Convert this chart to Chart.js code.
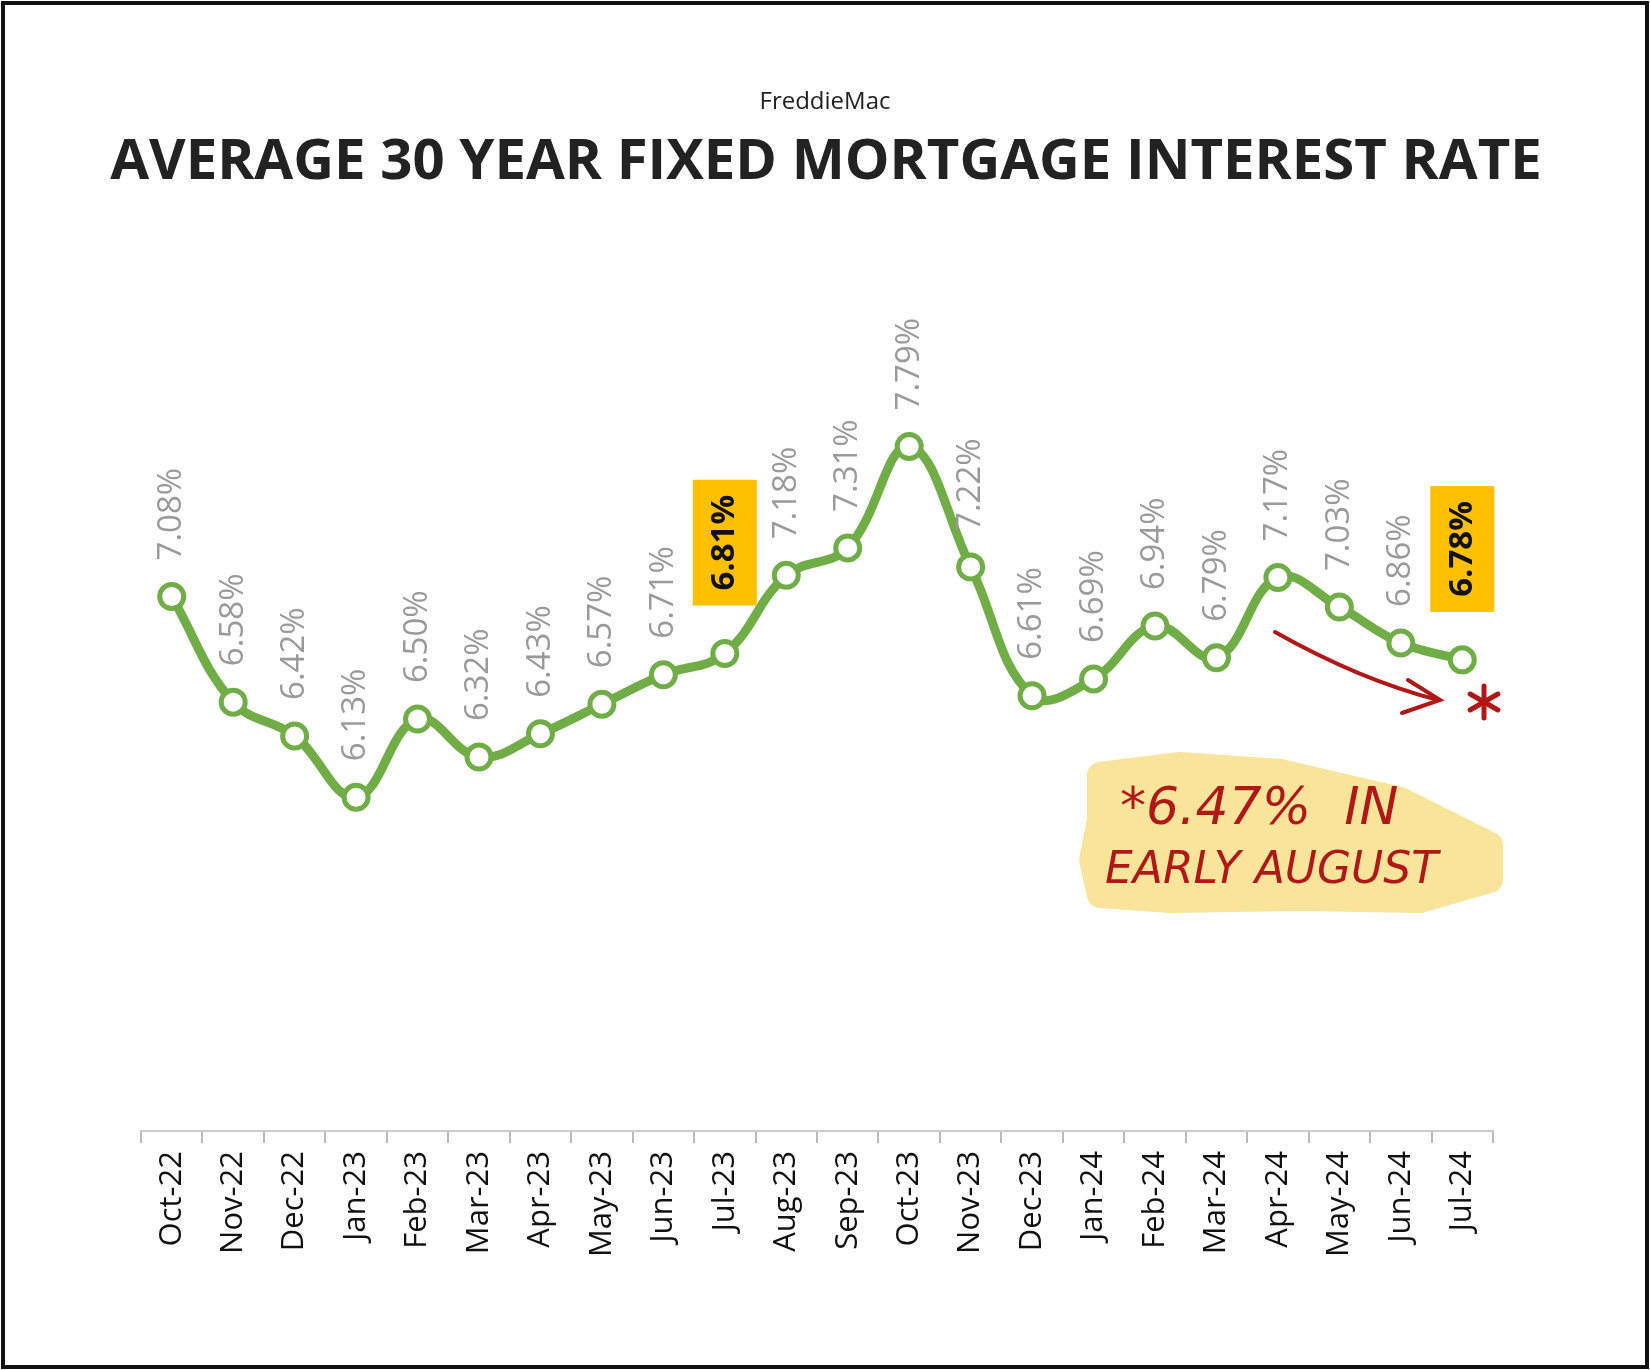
<!DOCTYPE html>
<html><head><meta charset="utf-8">
<script src="https://cdn.jsdelivr.net/npm/chart.js@4"></script>
<style>html,body{margin:0;padding:0;background:#fff}#wrap{width:1650px;height:1370px;position:relative}</style>
</head><body><div id="wrap"><canvas id="c" width="1650" height="1370"></canvas></div>
<script>
const categories=["Oct-22","Nov-22","Dec-22","Jan-23","Feb-23","Mar-23","Apr-23","May-23","Jun-23","Jul-23","Aug-23","Sep-23","Oct-23","Nov-23","Dec-23","Jan-24","Feb-24","Mar-24","Apr-24","May-24","Jun-24","Jul-24"];
const rates=[7.08,6.58,6.42,6.13,6.50,6.32,6.43,6.57,6.71,6.81,7.18,7.31,7.79,7.22,6.61,6.69,6.94,6.79,7.17,7.03,6.86,6.78];
const highlighted=["Jul-23","Jul-24"];
const titleText="AVERAGE 30 YEAR FIXED MORTGAGE INTEREST RATE";
const subtitleText="FreddieMac";
const noteLines=["*6.47%  IN","EARLY AUGUST"];

const deco={id:'deco',
 beforeDraw(ch){const c=ch.ctx;c.save();c.fillStyle='#fff';c.fillRect(0,0,1650,1370);
  c.strokeStyle='#111';c.lineWidth=4;c.strokeRect(3,3,1644,1364);
  c.fillStyle='#222';c.textAlign='center';c.textBaseline='middle';
  c.font='24px "Open Sans"';c.fillText(subtitleText,825,102);
  let fs=60;c.font='bold '+fs+'px "Open Sans"';const w=c.measureText(titleText).width;fs=fs*1432/w;
  c.font='bold '+fs+'px "Open Sans"';c.fillText(titleText,826,163);
  c.fillStyle='#F8E49A';c.beginPath();
  const pts=[[1100,775],[1180,765],[1280,772],[1400,800],[1490,845],[1490,880],[1420,900],[1300,898],[1170,900],[1100,895],[1092,860],[1100,820]];
  c.moveTo(pts[0][0],pts[0][1]);for(const p of pts)c.lineTo(p[0],p[1]);c.closePath();c.fill();
  c.lineJoin='round';c.strokeStyle='#F8E49A';c.lineWidth=26;c.stroke();
  c.restore();},
 afterDatasetsDraw(ch){const c=ch.ctx;const m=ch.getDatasetMeta(0);c.save();
  m.data.forEach((pt,i)=>{const hi=highlighted.includes(categories[i]);const t=rates[i].toFixed(2)+'%';
   c.save();c.translate(pt.x,pt.y-24);c.rotate(-Math.PI/2);c.textBaseline='middle';c.textAlign='left';
   c.font=(hi?'bold ':'')+'33px "Open Sans"';const tw=c.measureText(t).width;
   if(hi){c.fillStyle='#FFC000';c.fillRect(24,-32,tw+30,64);c.fillStyle='#111';c.fillText(t,39,0);}
   else{c.fillStyle='#9a9a9a';c.fillText(t,12,0);}
   c.restore();});
  c.strokeStyle='#B01818';c.lineWidth=4;c.lineCap='round';c.beginPath();
  c.moveTo(1275,632);c.quadraticCurveTo(1360,680,1438,700);c.stroke();
  c.beginPath();c.moveTo(1408,680);c.lineTo(1440,700);c.lineTo(1402,713);c.stroke();
  c.save();c.translate(1484,702);c.lineWidth=5;for(let k=0;k<3;k++){c.beginPath();c.moveTo(0,-16);c.lineTo(0,16);c.stroke();c.rotate(Math.PI/3);}c.restore();
  c.fillStyle='#B01818';c.textAlign='left';c.textBaseline='middle';
  c.font='italic 52px "DejaVu Sans"';c.fillText(noteLines[0],1120,810);
  c.font='italic 44px "DejaVu Sans"';c.fillText(noteLines[1],1105,872);
  c.restore();}
};
new Chart(document.getElementById('c'),{type:'line',
 data:{labels:categories,datasets:[{data:rates,borderColor:'#70AD47',borderWidth:9,tension:0.4,
  pointRadius:12,pointHoverRadius:12,pointBackgroundColor:'#fff',pointBorderColor:'#70AD47',pointBorderWidth:5,clip:false}]},
 options:{responsive:false,animation:false,devicePixelRatio:1,
  layout:{padding:{left:141,right:157,top:231,bottom:99}},
  plugins:{legend:{display:false},tooltip:{enabled:false}},
  scales:{y:{display:false,min:4.55,max:8.81},
   x:{offset:true,afterFit:s=>{s.height=140;},
    grid:{offset:true,drawOnChartArea:false,tickLength:12,color:'#bbb',lineWidth:2},
    border:{color:'#ccc',width:2},
    ticks:{minRotation:90,maxRotation:90,color:'#111',font:{size:31,family:'"Open Sans"'},padding:8}}}},
 plugins:[deco]});
</script></body></html>
